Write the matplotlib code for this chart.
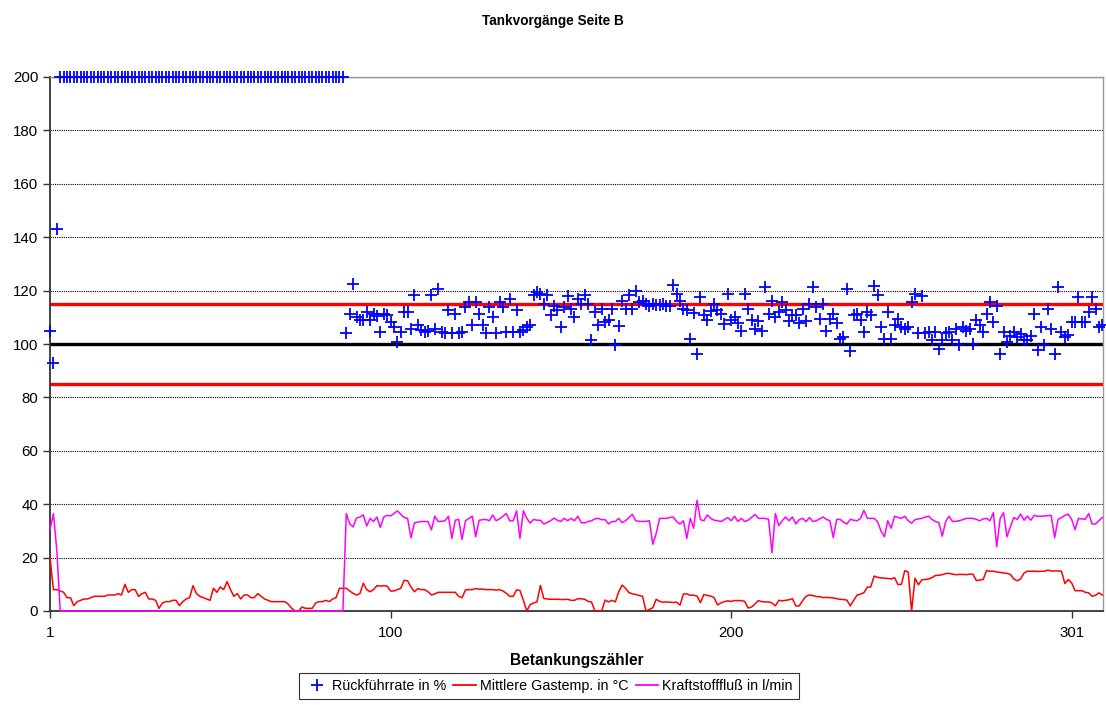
import matplotlib
matplotlib.use("Agg")
import matplotlib.pyplot as plt
from matplotlib.lines import Line2D

# ---------------- data ----------------
title = "Tankvorgänge Seite B"
xlabel = "Betankungszähler"
series_names = ["Rückführrate in %", "Mittlere Gastemp. in °C", "Kraftstofffluß in l/min"]

xtick_pos = [1, 101, 201, 301]
xtick_labels = ["1", "100", "200", "301"]
yticks = [0, 20, 40, 60, 80, 100, 120, 140, 160, 180, 200]

limit_upper = 115
limit_target = 100
limit_lower = 85

rueckfuehr_start = [105, 93, 143]
rueckfuehr_invalid = [200] * 84
rueckfuehr_rest = [
    104, 111.4, 122.6, 110.1, 109.1, 108.9, 112, 108.9, 111.4, 110.5,
    104.5, 111.4, 110.8, 108.2, 106.4, 100.8, 104.6, 112, 112, 105.5,
    118.2, 107, 105.4, 104.6, 105, 118.2, 105.7, 120.7, 104.6, 104.2,
    112.6, 104, 111.4, 104, 104.6, 113.9, 115.7, 107, 115.7, 111.4,
    107, 104, 113.9, 110.1, 104, 115.7, 113.9, 104.5, 117, 104.6,
    112.8, 104.6, 105.2, 106.4, 107, 118.2, 119.4, 118.8, 115, 118.2,
    110.8, 114.4, 112.6, 106.4, 114, 117.8, 113, 110, 117, 115,
    118.2, 115, 101.5, 112,
    107, 113.2, 108.2, 109, 113.2, 99.6, 106.6, 116.1, 113, 118.2,
    113.2, 120, 115.7, 116, 115, 114.4, 115, 114.6, 114.6, 115,
    114.4, 114.4, 122, 118.8, 116, 113.2, 112.6, 101.9, 111.5, 96.4,
    117.6, 110.7, 109, 112.2, 115, 112.6, 111.4, 107.4, 118.8, 109,
    110.1, 108, 105, 118.8, 113.2, 109, 105.7, 108.6, 105, 121.3,
    111.4, 116.1, 110.1, 112, 115.7, 112.6, 108.6, 111, 110.7, 108,
    113.2, 108.6, 115, 121.3, 114, 109.4, 115, 105, 109.4, 111.4,
    108, 101.9, 102.6, 120.7, 97.4, 110.7, 111.4, 109, 104.5, 111.9,
    111, 121.9, 118.2, 106.4, 102, 112, 102, 107, 109.5, 106.4,
    105.7, 106.4, 115.7, 118.8, 104, 117.8, 104.2, 104.6, 101.4, 104.6,
    98.2, 101.4, 104, 104.6, 101.4, 105.7, 99.6, 106.4, 104.7, 105.5,
    100, 109, 107, 104.6, 111.4, 115.7, 108.2, 114.4, 96.4, 104.6,
    100.7, 103, 104.6, 102.6, 103.9, 101.4, 101.4, 103, 111.4, 97.6,
    106.4, 99.6, 113.2, 105.7, 96.4, 121.2, 104.6, 102.6, 103.2, 108.2,
    108.2, 117.6, 108.2, 108.2, 112, 117.6, 113.2, 106.4, 107,
]
rueckfuehr = rueckfuehr_start + rueckfuehr_invalid + rueckfuehr_rest

gastemp = [
    20, 8, 8, 7.5, 7, 5, 5, 2, 3.5, 4,
    4.5, 4.5, 5, 5.5, 5.5, 5.5, 5.5, 6, 6, 6,
    6.5, 6, 10, 7, 8, 8, 5.5, 6.5, 7, 4.5,
    4.5, 4, 1, 3, 3.5, 3.5, 4, 4, 2, 3.5,
    4.5, 5, 9.5, 6.5, 5.5, 5, 4.5, 4, 8.5, 7,
    9, 8, 11, 8, 5.5, 6.5, 4.5, 6, 6, 5,
    5, 6.5, 5.5, 4.5, 4, 3.5, 3.5, 3.5, 3.5, 3.5,
    2.5, 1, 0, 0, 1.5, 1, 1, 1, 3, 3.5,
    3.5, 4, 3.5, 4.5, 5, 8.5, 8.5,
    8.5, 7.5, 6.6, 6, 6.5, 10.4, 8, 7.2, 8, 9.5,
    9.3, 9.5, 9.3, 7.5, 7.5, 8, 8.5, 11.5, 11.3, 9,
    7.2, 8.4, 8, 8, 7.2, 6, 6.4, 7, 7, 7,
    7, 7, 7, 5.5, 5, 7.9, 8, 8, 8.4, 8.2,
    8.2, 8, 8, 8, 7.8, 8, 7.5, 6.6, 5.5, 5.5,
    7.9, 7.7, 4, 0, 2.4, 3, 3.4, 9.6, 4.7, 4.5,
    4.4, 4.4, 4.4, 4.3, 4.3, 4.4, 4, 4, 4.6, 4.6,
    4.4, 3.6, 3.4, 0, 0, 0, 4.1, 3.4, 4, 3.4,
    7.2, 9.7, 8.5, 6.9, 6.4, 6.2, 5.8, 5.5, 0, 0.6,
    1.2, 4.4, 3.6, 3.3, 3.4, 3.3, 3.2, 3.3, 2.2, 6.4,
    6.4, 5.9, 5.9, 5.6, 3.1, 6.2, 5.8, 5.6, 5, 2.3,
    3, 3.5, 3.8, 3.6, 3.9, 3.9, 3.9, 3.6, 1.1, 1.5,
    2.6, 3.9, 3.5, 3.4, 3.4, 3, 1.9, 4, 3.8, 4,
    4.2, 4.6, 1.9, 1.9, 3.9, 5.5, 6, 5.8, 5.4, 5.4,
    5, 5.1, 5, 4.9, 4.6, 4.4, 4.3, 4.1, 1.9, 4,
    6, 6.3, 6.9, 8.9, 9, 13.1, 12.6, 12.4, 12.3, 12.2,
    12, 12.5, 9.9, 10, 15.1, 14.6, 0, 12.3, 9.8, 11.7,
    11.8, 12, 12.5, 13.3, 13.4, 13.6, 14, 14.1, 13.8, 13.6,
    13.7, 13.7, 13.6, 13.8, 13.8, 11.4, 11.6, 11.8, 15.1, 14.9,
    14.9, 14.6, 14.5, 14.2, 14.1, 13.7, 12, 11.3, 12, 14.2,
    14.9, 14.9, 14.9, 14.8, 14.9, 14.9, 15.3, 15, 15, 15,
    14.9, 10.3, 11.8, 10.5, 7.6, 7.6, 7.6, 7, 6.8, 5.5,
    5.9, 6.8, 6,
]

kraftstoff_start = [30.5, 36.5, 22.8]
kraftstoff_zero = [0] * 84
kraftstoff_rest = [
    36.5, 32.6, 31.5, 34.8, 35.2, 36, 31.8, 34.7, 33.5, 35.2,
    31.3, 35.2, 35.8, 35.6, 36.5, 37.5, 36.2, 35, 34.7, 27.4,
    33, 33.3, 33.5, 33.5, 33.5, 30.4, 35.5, 33.5, 33.6, 33.8,
    35.5, 27.2, 34, 34.3, 26.8, 33.8, 34.7, 35.5, 27.8, 34,
    34.2, 34.3, 33.8, 36, 33.8, 34.5, 35.5, 36.5, 33.8, 33.8,
    37.5, 27.2, 37.5, 34.7, 32.9, 34.3, 34, 34, 32.6, 33.2,
    33.8, 34.8, 34, 33.5, 34.7, 33.8, 34.7, 33.8, 35.5, 33.1,
    33, 33.5, 33.8, 34.5,
    34.7, 34.2, 34.2, 32.6, 33.5, 33.5, 34.7, 33.1, 33.8, 35,
    36.2, 33.8, 33.6, 33.5, 33.6, 33.8, 25, 29, 34.7, 34.7,
    34.7, 35, 35.2, 33.5, 32.6, 33.8, 27.2, 34.7, 31, 41.5,
    34.2, 33.8, 36, 34.7, 34, 33.8, 33.5, 34.2, 35, 33.8,
    35.5, 33.5, 34.7, 33.5, 34, 35, 36.2, 34.7, 34.7, 34.7,
    34.3, 21.8, 36.5, 32, 33.8, 35.2, 33.8, 35.2, 32.6, 34.2,
    34.7, 33.5, 35, 33.5, 33.8, 34.5, 35.2, 34.3, 33.8, 27.5,
    34.3, 34.3, 33.3, 32.6, 34.3, 34, 33.8, 34.7, 37.7, 34.7,
    34.7, 34.7, 33.5, 30, 27.8, 33.8, 31, 35.5, 35, 34.7,
    35.5, 33.8, 32.9, 34.2, 34.5, 34.7, 35.2, 35.5, 34.3, 33.5,
    33.1, 28, 33.5, 35.5, 33.5, 33.6, 33.8, 34.2, 34.7, 34.7,
    34.7, 34.3, 33.8, 34.5, 34.7, 33.8, 36.8, 24.1, 34.7, 36.8,
    27.8, 31.5, 35, 34.3, 36.3, 34, 35.5, 34, 35.8, 35.5,
    35.5, 35.6, 35.7, 35.8, 27.4, 34.3, 35, 35.8, 36.3, 34.3,
    30.5, 34.7, 34.5, 34.3, 36.5, 32.6, 32.6, 33.8, 35,
]
kraftstoff = kraftstoff_start + kraftstoff_zero + kraftstoff_rest

# ---------------- plot ----------------
plt.rcParams['font.family'] = ['Liberation Sans', 'DejaVu Sans']

fig = plt.figure(figsize=(11.06, 7.11), dpi=100)
ax = fig.add_axes([50 / 1106, 1 - 611 / 711, 1053 / 1106, 534 / 711])

n = len(rueckfuehr)
x = list(range(1, n + 1))
xg = list(range(1, len(gastemp) + 1))
xk = list(range(1, len(kraftstoff) + 1))

ax.set_xlim(1, 310.2)
ax.set_ylim(0, 200)

ax.set_yticks(yticks)
ax.set_xticks(xtick_pos)
ax.set_xticklabels(xtick_labels)
for yv in yticks[1:-1]:
    ax.axhline(yv, color='black', lw=0.8, linestyle=(0, (1, 1)), zorder=1)
ax.axhline(200, color='#9a9a9a', lw=1.0, zorder=1)

ax.axhline(limit_upper, color='#FF0000', lw=2.4, zorder=2)
ax.axhline(limit_lower, color='#FF0000', lw=2.4, zorder=2)
ax.axhline(limit_target, color='black', lw=2.4, zorder=2)

ax.plot(xg, gastemp, color='#FF0000', lw=1.1, zorder=3, clip_on=False)
ax.plot(xk, kraftstoff, color='#FF00FF', lw=1.1, zorder=3, clip_on=False)
ax.plot(x, rueckfuehr, linestyle='none', marker='+', color='#0000FF',
        markersize=8.8, markeredgewidth=1.3, zorder=4, clip_on=False)

for s in ['left', 'bottom']:
    ax.spines[s].set_color('#333333')
    ax.spines[s].set_linewidth(1.3)
for s in ['top', 'right']:
    ax.spines[s].set_color('#9a9a9a')
    ax.spines[s].set_linewidth(1.0)

ax.tick_params(axis='both', direction='out', length=5, width=1.0,
               colors='#333333', labelcolor='black', labelsize=10.8)
ax.tick_params(axis='x', pad=6)

fig.text(0.5, 1 - 21 / 711, title, ha='center', va='center',
         fontsize=9.8, fontweight='bold')
fig.text(576.5 / 1106, 1 - 660 / 711, xlabel, ha='center', va='center',
         fontsize=11.2, fontweight='bold')

handles = [
    Line2D([], [], linestyle='none', marker='+', color='#0000FF',
           markersize=8.8, markeredgewidth=1.3),
    Line2D([], [], color='#FF0000', lw=1.3),
    Line2D([], [], color='#FF00FF', lw=1.3),
]
leg = fig.legend(handles, series_names, loc='center',
                 bbox_to_anchor=(549 / 1106, 1 - 686 / 711), ncol=3,
                 frameon=True, fancybox=False, edgecolor='black',
                 fontsize=10.3, handlelength=1.6, handletextpad=0.25,
                 columnspacing=0.5, borderpad=0.45, borderaxespad=0)
leg.get_frame().set_linewidth(0.8)

fig.savefig('out.png', dpi=100)
